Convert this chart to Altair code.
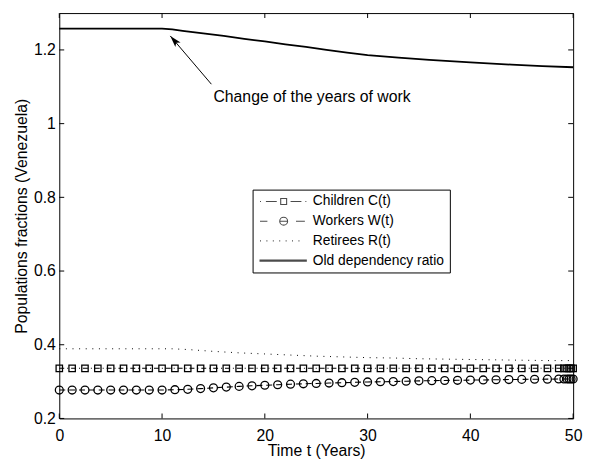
import altair as alt
import pandas as pd

# ---------------- data ----------------
t_marks = [0, 1.25, 2.5, 3.75, 5, 6.25, 7.5, 8.75, 10, 11.25, 12.5, 13.75, 15,
           16.25, 17.5, 18.75, 20, 21.25, 22.5, 23.75, 25, 26.25, 27.5, 28.75,
           30, 31.25, 32.5, 33.75, 35, 36.25, 37.5, 38.75, 40, 41.25, 42.5,
           43.75, 45, 46.25, 47.5, 48.6, 49.1, 49.4, 49.6, 49.8, 50]
children = [0.336, 0.336, 0.336, 0.336, 0.336, 0.336, 0.336, 0.336, 0.336,
            0.336, 0.336, 0.336, 0.336, 0.336, 0.336, 0.336, 0.336, 0.336,
            0.336, 0.336, 0.336, 0.336, 0.336, 0.336, 0.336, 0.336, 0.336,
            0.336, 0.336, 0.336, 0.336, 0.336, 0.336, 0.336, 0.336, 0.336,
            0.336, 0.336, 0.336, 0.336, 0.336, 0.336, 0.336, 0.336, 0.336]
workers = [0.277, 0.277, 0.277, 0.277, 0.277, 0.277, 0.277, 0.277, 0.277,
           0.278, 0.279, 0.281, 0.283, 0.285, 0.287, 0.2885, 0.290, 0.2915,
           0.293, 0.294, 0.295, 0.296, 0.297, 0.298, 0.299, 0.2995, 0.300,
           0.301, 0.302, 0.3025, 0.303, 0.3035, 0.304, 0.3045, 0.305, 0.3055,
           0.306, 0.3063, 0.3066, 0.307, 0.307, 0.307, 0.307, 0.307, 0.307]
ret_t = [0, 11, 12.5, 15, 17.5, 20, 22.5, 25, 27.5, 30, 32.5, 35, 37.5, 40,
         42.5, 45, 47.5, 50]
retirees = [0.389, 0.389, 0.387, 0.382, 0.378, 0.375, 0.372, 0.369, 0.367,
            0.365, 0.364, 0.362, 0.361, 0.360, 0.359, 0.358, 0.357, 0.357]
ratio_t = [0, 10, 11, 12, 14, 16, 18, 20, 22, 24, 26, 28, 30, 33, 36, 40, 44,
           47, 50]
ratio = [1.258, 1.258, 1.256, 1.252, 1.245, 1.238, 1.230, 1.223, 1.215, 1.208,
         1.200, 1.193, 1.186, 1.179, 1.173, 1.166, 1.160, 1.156, 1.153]

series_names = ["Children C(t)", "Workers W(t)", "Retirees R(t)",
                "Old dependency ratio"]
x_ticks = [0, 10, 20, 30, 40, 50]
y_ticks = [0.2, 0.4, 0.6, 0.8, 1.0, 1.2]
annot_text = "Change of the years of work"
arrow_t = [14.8, 10.8]      # tail, tip
arrow_v = [1.107, 1.238]
text_t = [15.0]
text_v = [1.072]

# ---------------- styling ----------------
FONT = "Liberation Sans"
W, H = 521, 411
TICK = 5

xs = alt.Scale(domain=[0, 50], nice=False, zero=False)
ys = alt.Scale(domain=[0.2, 1.3], nice=False, zero=False)

x_axis = alt.Axis(values=x_ticks, format="d", labelFont=FONT, labelFontSize=16,
                  labelColor="black", labelPadding=9, labelFlush=False,
                  labelOverlap=False, ticks=False, tickSize=0, domain=False,
                  grid=False, title="Time t (Years)", titleFont=FONT,
                  titleFontSize=16, titleFontWeight="normal", titleColor="black",
                  titlePadding=0)
y_axis = alt.Axis(values=y_ticks,
                  labelExpr="datum.value == 1 ? '1' : format(datum.value, '.1f')",
                  labelFont=FONT, labelFontSize=16,
                  labelColor="black", labelPadding=4, labelFlush=False,
                  labelOverlap=False, ticks=False, tickSize=0, domain=False,
                  grid=False, title="Populations fractions (Venezuela)",
                  titleFont=FONT, titleFontSize=16, titleFontWeight="normal",
                  titleColor="black", titlePadding=4)

X = alt.X("t:Q", scale=xs, axis=x_axis)
Y = alt.Y("v:Q", scale=ys, axis=y_axis)

df_c = pd.DataFrame({"t": t_marks, "v": children})
df_w = pd.DataFrame({"t": t_marks, "v": workers})
df_r = pd.DataFrame({"t": ret_t, "v": retirees})
df_o = pd.DataFrame({"t": ratio_t, "v": ratio})
df_arrow = pd.DataFrame({"t": arrow_t, "v": arrow_v, "o": [0, 1]})
df_tip = pd.DataFrame({"t": arrow_t[1:], "v": arrow_v[1:]})
df_text = pd.DataFrame({"t": text_t, "v": text_v, "label": [annot_text]})
df_xt = pd.DataFrame({"t": x_ticks})
df_yt = pd.DataFrame({"v": y_ticks})
df_leg = pd.DataFrame({"t": [0] * 4, "v": [0.5] * 4, "s": series_names})

ratio_line = alt.Chart(df_o).mark_line(color="black", strokeWidth=1.8).encode(x=X, y=Y)
ret_line = alt.Chart(df_r).mark_line(color="black", strokeWidth=1,
                                     strokeDash=[1, 5.7]).encode(x=X, y=Y)
ch_line = alt.Chart(df_c).mark_line(color="black", strokeWidth=1.1,
                                    strokeDash=[5, 3, 1, 3]).encode(x=X, y=Y)
ch_pts = alt.Chart(df_c).mark_point(shape="square", size=42, filled=False,
                                    color="black", strokeWidth=1.3,
                                    opacity=1).encode(x=X, y=Y)
wk_line = alt.Chart(df_w).mark_line(color="black", strokeWidth=1.1,
                                    strokeDash=[6, 4]).encode(x=X, y=Y)
wk_pts = alt.Chart(df_w).mark_point(shape="circle", size=64, filled=False,
                                    color="black", strokeWidth=1.3,
                                    opacity=1).encode(x=X, y=Y)

arrow_line = alt.Chart(df_arrow).mark_line(color="black", strokeWidth=1).encode(
    x=X, y=Y, order="o:Q")
arrow_head = alt.Chart(df_tip).mark_point(
    shape="M0,0L0.5,1.7L0,1.3L-0.5,1.7Z", size=196, filled=True, color="black",
    opacity=1, angle=319).encode(x=X, y=Y)
annot = alt.Chart(df_text).mark_text(align="left", baseline="middle", font=FONT,
                                     fontSize=16, color="black").encode(
    x=X, y=Y, text="label:N")

xt_bot = alt.Chart(df_xt).mark_rule(color="black", strokeWidth=1).encode(
    x=X, y=alt.value(H), y2=alt.value(H - TICK))
xt_top = alt.Chart(df_xt).mark_rule(color="black", strokeWidth=1).encode(
    x=X, y=alt.value(0), y2=alt.value(TICK))
yt_left = alt.Chart(df_yt).mark_rule(color="black", strokeWidth=1).encode(
    y=Y, x=alt.value(0), x2=alt.value(TICK))
yt_right = alt.Chart(df_yt).mark_rule(color="black", strokeWidth=1).encode(
    y=Y, x=alt.value(W), x2=alt.value(W - TICK))

# legend symbols: line + marker drawn as custom paths (1 unit = 5 px)
sym_children = ("M-0.9,0L-0.7,0M0.3,0L2.5,0M3.3,-0.6L4.5,-0.6L4.5,0.6L3.3,0.6Z"
                "M5.3,0L7.5,0M8.3,0L8.5,0")
sym_workers = ("M-0.9,0L0.6,0M3.1,0L4.7,0M4.7,0A0.8,0.8 0 1,1 3.1,0"
               "A0.8,0.8 0 1,1 4.7,0M6.4,0L8.2,0")
sym_retirees = ("M-0.9,0L-0.7,0M0.4,0L0.6,0M1.7,0L1.9,0M3.0,0L3.2,0"
                "M4.3,0L4.5,0M5.6,0L5.8,0M6.9,0L7.1,0")
sym_ratio = "M-1,-0.12L8.6,-0.12M-1,0L8.6,0M-1,0.12L8.6,0.12"

legend_layer = alt.Chart(df_leg).mark_point(filled=False, color="black").encode(
    x=X, y=Y,
    shape=alt.Shape("s:N", scale=alt.Scale(
        domain=series_names,
        range=[sym_children, sym_workers, sym_retirees, sym_ratio]),
        legend=alt.Legend(orient="none", legendX=196, legendY=179, title=None,
                          padding=5, strokeColor="black", fillColor="white",
                          labelFont=FONT, labelFontSize=14, labelColor="black",
                          labelLimit=400, symbolSize=100, symbolStrokeWidth=1.1,
                          symbolStrokeColor="black", labelOffset=42,
                          rowPadding=6)),
).transform_filter("false")

chart = alt.layer(
    ratio_line, ret_line, ch_line, wk_line, ch_pts, wk_pts,
    arrow_line, arrow_head, annot,
    xt_bot, xt_top, yt_left, yt_right, legend_layer,
).properties(
    width=W, height=H, autosize="none",
    padding={"left": 52, "top": 2, "right": 10, "bottom": 40},
    background="white",
).configure_view(stroke="black", strokeWidth=1)

chart.save("out.html", embed_options={"renderer": "svg", "actions": False})
